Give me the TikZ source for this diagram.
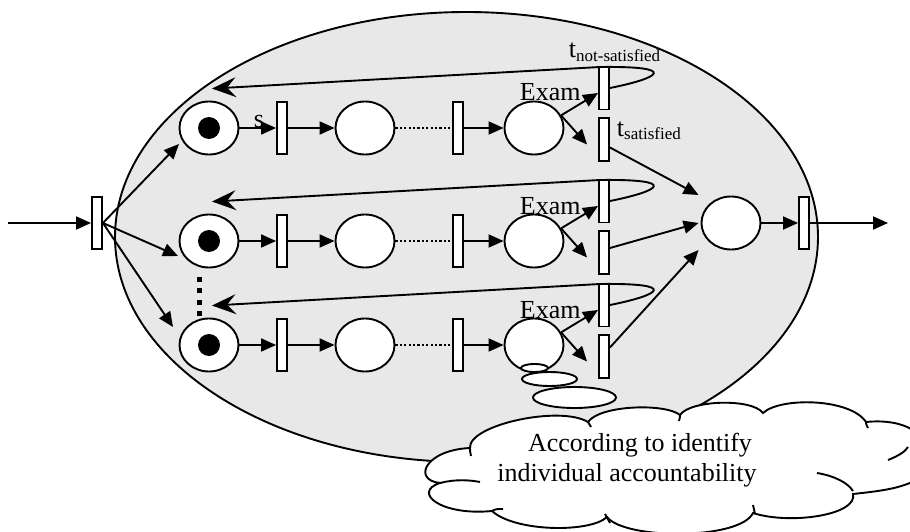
\documentclass[tikz,border=0pt]{standalone}
\usepackage{fontspec}
\setmainfont{Liberation Serif}
\usetikzlibrary{shapes.geometric,arrows.meta}
\definecolor{netgray}{RGB}{232,232,232}
\tikzset{
  place/.style={ellipse,draw,fill=white,minimum width=59pt,minimum height=53pt,inner sep=0pt},
  trans/.style={rectangle,draw,fill=white,minimum width=10pt,minimum height=52pt,inner sep=0pt},
  examtrans/.style={trans,minimum height=43pt},
  token/.style={circle,fill=black,minimum size=22pt,inner sep=0pt},
  arc/.style={-{Triangle[length=15pt,width=13pt]}},
  back/.style={-{Stealth[length=24pt,width=20pt,inset=9pt]}},
  lbl/.style={font=\fontsize{26}{30}\selectfont,inner sep=0pt},
  dotline/.style={dash pattern=on 2.2pt off 2.2pt},
  dots/.style={line width=5pt,dash pattern=on 5pt off 6.3pt},
}
\begin{document}
\begin{tikzpicture}[x=1pt,y=-1pt,line width=1.9pt]
\useasboundingbox (0,0) rectangle (910,532);
\clip (0,0) rectangle (910,532);

% group boundary
\draw[fill=netgray] (466.5,237) ellipse [x radius=351.5, y radius=225];

% input and output
\node[trans] (tin) at (97,223) {};
\coordinate (src) at (8,223);
\draw[arc] (src) -- (tin);
\node[place] (pf) at (731,223) {};
\node[trans] (tf) at (804,223) {};
\coordinate (sink) at (888,223);
\draw[arc] (pf) -- (tf);
\draw[arc] (tf) -- (sink);

% one row per student
\foreach \r/\Y in {1/128,2/241,3/345}{
  \node[place] (p\r1) at (209,\Y) {};
  \node[token] (k\r) at (p\r1) {};
  \node[trans] (ta\r) at (282,\Y) {};
  \node[place] (p\r2) at (365,\Y) {};
  \node[trans] (tb\r) at (458,\Y) {};
  \node[place] (p\r3) at (534,\Y) {};
  \node[examtrans] (tu\r) at (604,{\Y-40}) {};
  \node[examtrans] (tl\r) at (604,{\Y+11.5}) {};
  \node[lbl,anchor=base west] (ex\r) at (519,{\Y-27}) {Exam};
  \draw[arc] (p\r1) -- (ta\r);
  \draw[arc] (ta\r) -- (p\r2);
  \draw[dotline] (p\r2) -- (tb\r);
  \draw[arc] (tb\r) -- (p\r3);
  \draw[arc] (p\r3.25) -- ([yshift=-5pt]tu\r.west);
  \draw[arc] (p\r3.25) -- ([xshift=-11pt,yshift=-5pt]tl\r.west);
  \draw[back] (tu\r.east) .. controls (660,{\Y-50}) and (680,{\Y-62}) .. (600,{\Y-61})
     -- ([xshift=3pt,yshift=12pt]p\r1.north);
}

% entry arcs
\coordinate (a1) at (179,144);
\coordinate (a2) at (178,256);
\coordinate (a3) at (173,327);
\draw[arc] (tin.east) -- (a1);
\draw[arc] (tin.east) -- (a2);
\draw[arc] (tin.east) -- (a3);

% passed exams lead to the joint place
\draw[arc] ([yshift=-8pt]tl1.east) -- ([xshift=-2pt,yshift=28pt]pf.west);
\draw[arc] ([yshift=4.5pt]tl2.east) -- ([xshift=-2pt]pf.west);
\draw[arc] ([yshift=9pt]tl3.east) -- ([xshift=-2pt,yshift=-27pt]pf.west);

% ellipsis between rows
\coordinate (d1) at (199,277);
\coordinate (d2) at (199,317);
\draw[dots] (d1) -- (d2);

% labels
\node[lbl,anchor=base west] (slbl) at (253,128) {s};
\node[lbl,anchor=base west] (tns) at (568,58) {t\raisebox{-4pt}{\fontsize{17}{17}\selectfont not-satisfied}};
\node[lbl,anchor=base west] (tsat) at (616,137) {t\raisebox{-2pt}{\fontsize{17}{17}\selectfont satisfied}};

% thought bubbles
\draw[fill=white] (534.5,368) ellipse [x radius=13.5, y radius=4];
\draw[fill=white] (549.5,379) ellipse [x radius=27.5, y radius=7];
\draw[fill=white] (574.5,397.5) ellipse [x radius=41.5, y radius=10.5];

% cloud
\draw[fill=white] (470,448) .. controls (468,425) and (560,405) .. (588,422)
  .. controls (600,405) and (665,403) .. (680,415)
  .. controls (690,400) and (752,398) .. (763,413)
  .. controls (780,397) and (850,398) .. (866,422)
  .. controls (905,418) and (930,435) .. (925,455)
  .. controls (935,470) and (925,480) .. (912,482)
  .. controls (895,490) and (870,492) .. (853,494)
  .. controls (858,515) and (790,525) .. (753,513)
  .. controls (740,540) and (625,540) .. (607,517)
  .. controls (590,533) and (515,532) .. (492,511)
  .. controls (440,516) and (412,492) .. (440,483)
  .. controls (412,480) and (425,450) .. (470,448) -- cycle;
% inner puff strokes
\draw (470,448) .. controls (470,451) .. (471,456);
\draw (440,483) .. controls (455,479) and (470,480) .. (480,482);
\draw (492,511) .. controls (496,509) .. (503,509);
\draw (605,514) .. controls (607,519) .. (610,523);
\draw (753,505) .. controls (754,509) .. (755,514);
\draw (817,473) .. controls (835,476) and (848,483) .. (853,491);
\draw (888,460) .. controls (898,456) and (905,452) .. (908,447);
\draw (680,415) .. controls (680,417) .. (679,421);
\draw (866,422) .. controls (866,424) .. (868,428);
\draw (588,422) .. controls (589,424) .. (591,427);

\node[lbl,anchor=base] (c1) at (640,451) {According to identify};
\node[lbl,anchor=base] (c2) at (627,481) {individual accountability};
\end{tikzpicture}
\end{document}
